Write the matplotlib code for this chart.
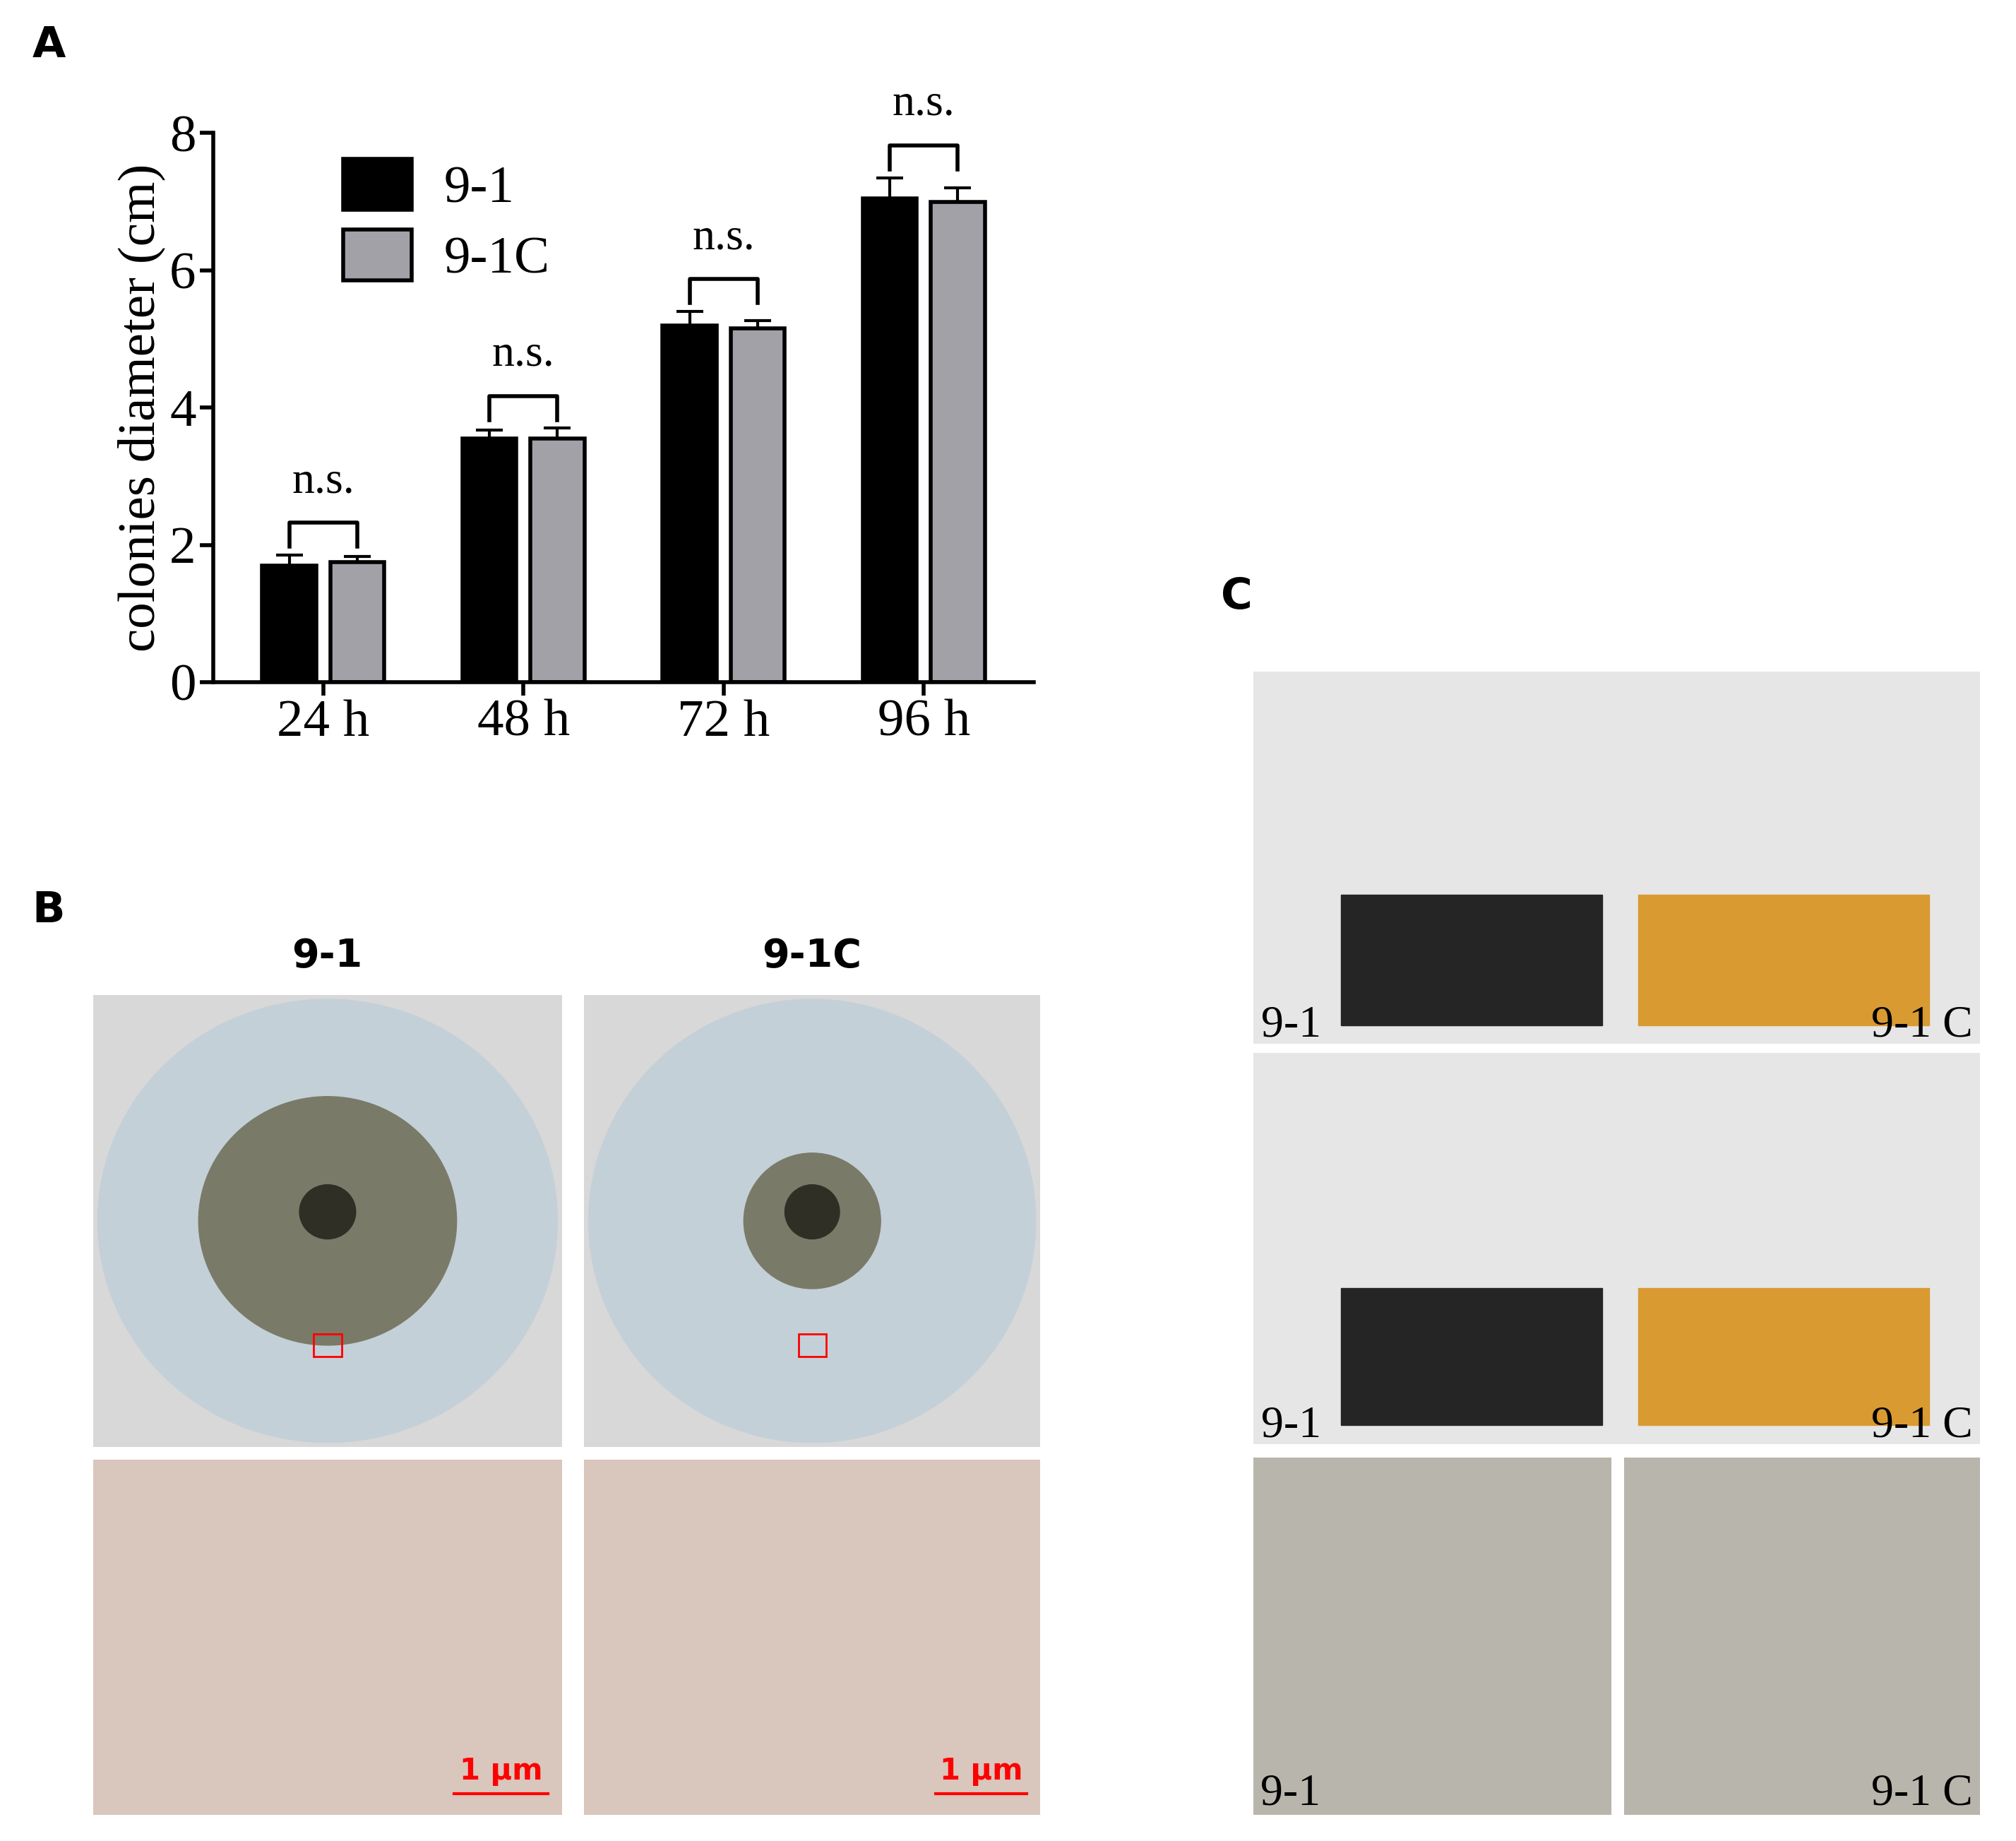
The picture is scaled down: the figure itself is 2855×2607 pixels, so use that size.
import matplotlib
matplotlib.use("Agg")
import matplotlib.pyplot as plt
import numpy as np
from matplotlib.patches import Circle, Rectangle, Ellipse

times = ["24 h", "48 h", "72 h", "96 h"]
strain_a = [1.70, 3.55, 5.20, 7.05]
strain_a_err = [0.15, 0.12, 0.20, 0.30]
strain_b = [1.75, 3.55, 5.15, 7.00]
strain_b_err = [0.08, 0.15, 0.12, 0.20]
sig = ["n.s.", "n.s.", "n.s.", "n.s."]

W, H = 1560, 1425
fig = plt.figure(figsize=(28.55, 26.07), dpi=100)
def ax_px(x0, y0, x1, y1):
    return fig.add_axes([x0/W, 1-y1/H, (x1-x0)/W, (y1-y0)/H])

ser = "Liberation Serif"
ax = ax_px(165, 103, 800, 528)
x = np.arange(len(times))
w = 0.27
off = 0.17
ek = dict(ecolor="black", elinewidth=3, capsize=14, capthick=3, zorder=1)
ax.errorbar(x-off, strain_a, yerr=strain_a_err, fmt="none", **ek)
ax.errorbar(x+off, strain_b, yerr=strain_b_err, fmt="none", **ek)
ax.bar(x-off, strain_a, w, color="black", edgecolor="black", linewidth=4, label="9-1", zorder=2)
ax.bar(x+off, strain_b, w, color="#a3a1a8", edgecolor="black", linewidth=4, label="9-1C", zorder=2)
for i in range(len(times)):
    top = max(strain_a[i]+strain_a_err[i], strain_b[i]+strain_b_err[i]) + 0.12
    h = 0.35
    ax.plot([x[i]-off, x[i]-off, x[i]+off, x[i]+off], [top, top+h, top+h, top], color="black", lw=4)
    ax.text(x[i], top+h+0.3, sig[i], ha="center", va="bottom", fontsize=46, family=ser)
ax.set_ylim(0, 8)
ax.set_xlim(-0.55, 3.55)
ax.set_yticks([0, 2, 4, 6, 8])
ax.set_xticks(x)
ax.set_xticklabels(times)
ax.tick_params(labelsize=54, width=4, length=14)
for t in ax.get_xticklabels()+ax.get_yticklabels():
    t.set_family(ser)
ax.spines[["top", "right"]].set_visible(False)
ax.spines[["left", "bottom"]].set_linewidth(4)
ax.set_ylabel("colonies diameter (cm)", fontsize=54, family=ser)
ax.legend(loc="upper left", bbox_to_anchor=(0.1, 1.04), frameon=False, prop=dict(family=ser, size=54),
          handlelength=1.3, handleheight=1.1, handletextpad=0.6, labelspacing=0.3)

fig.text(25/W, 1-35/H, "A", fontsize=44, weight="bold", va="center")
fig.text(25/W, 1-705/H, "B", fontsize=44, weight="bold", va="center")
fig.text(945/W, 1-462/H, "C", fontsize=44, weight="bold", va="center")
fig.text(253/W, 1-740/H, "9-1", fontsize=40, weight="bold", ha="center", va="center")
fig.text(628/W, 1-740/H, "9-1C", fontsize=40, weight="bold", ha="center", va="center")

def img_ax(x0, y0, x1, y1, bg):
    a = ax_px(x0, y0, x1, y1)
    a.set_xlim(0, 1); a.set_ylim(0, 1); a.axis("off")
    a.add_patch(Rectangle((0, 0), 1, 1, color=bg))
    return a

for (x0, x1, big) in [(72, 435, True), (452, 805, False)]:
    a = img_ax(x0, 770, x1, 1120, "#d8d8d8")
    a.add_patch(Ellipse((0.5, 0.5), 0.98, 0.98, color="#c4d0d8"))
    r = 0.55 if big else 0.3
    a.add_patch(Ellipse((0.5, 0.5), r, r, color="#7a7a68"))
    a.add_patch(Ellipse((0.5, 0.52), 0.12, 0.12, color="#2f2f25"))
    a.add_patch(Rectangle((0.47, 0.2), 0.06, 0.05, fill=False, ec="red", lw=2))
    b = img_ax(x0, 1130, x1, 1405, "#d9c6bc")
    b.plot([0.77, 0.97], [0.06, 0.06], color="red", lw=3)
    b.text(0.87, 0.1, "1 μm", color="red", fontsize=30, weight="bold", ha="center")

for (y0, y1) in [(520, 808), (815, 1118)]:
    a = img_ax(970, y0, 1532, y1, "#e6e6e6")
    a.add_patch(Rectangle((0.12, 0.05), 0.36, 0.35, color="#252525"))
    a.add_patch(Rectangle((0.53, 0.05), 0.4, 0.35, color="#d99a32"))
    a.text(0.01, 0.02, "9-1", fontsize=46, family=ser)
    a.text(0.99, 0.02, "9-1 C", fontsize=46, family=ser, ha="right")
for (x0, x1, lab, ha, xx) in [(970, 1247, "9-1", "left", 0.02), (1257, 1532, "9-1 C", "right", 0.98)]:
    a = img_ax(x0, 1128, x1, 1405, "#b8b5ac")
    a.text(xx, 0.03, lab, fontsize=46, family=ser, ha=ha)

fig.savefig("out.png", dpi=100)
